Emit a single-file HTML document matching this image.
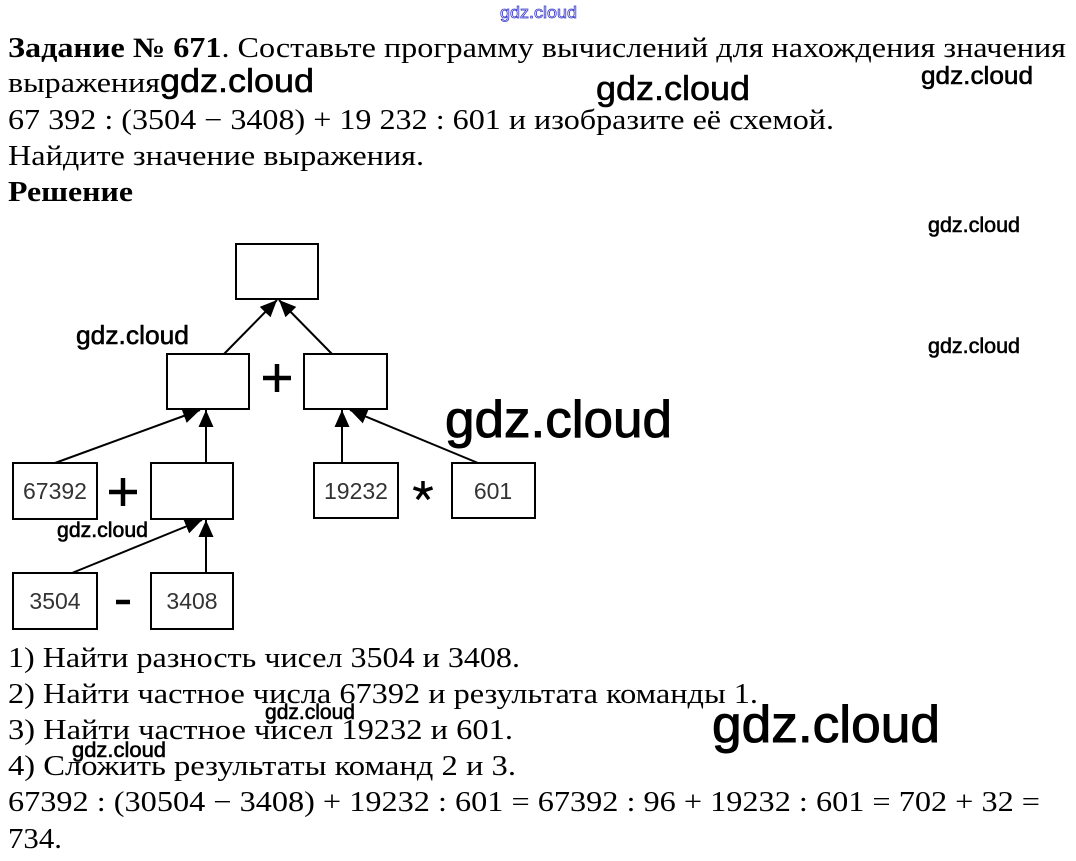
<!DOCTYPE html>
<html><head><meta charset="utf-8"><style>
html,body{margin:0;padding:0;background:#fff;}
svg{display:block;}
.t{font-family:"Liberation Serif","Noto Serif CJK SC",serif;font-size:28px;fill:#000;}
.w{font-family:"Liberation Sans","DejaVu Sans",sans-serif;fill:#000;stroke:#000;stroke-width:0.6;}
.n{font-family:"Liberation Sans",Arial,sans-serif;font-size:23px;fill:#333;text-anchor:middle;}
</style></head><body>
<svg width="1076" height="861" viewBox="0 0 1076 861" xmlns="http://www.w3.org/2000/svg">
<defs>
<marker id="ah" markerUnits="userSpaceOnUse" markerWidth="18" markerHeight="16" refX="17" refY="7.5" orient="auto">
<path d="M0,0 L17,7.5 L0,15 z" fill="#000"/>
</marker>
</defs>

<!-- top blue watermark -->
<text x="500" y="18" font-family="Liberation Sans, sans-serif" font-size="17" fill="#fff" stroke="#3a3acc" stroke-width="0.8" textLength="77" lengthAdjust="spacingAndGlyphs">gdz.cloud</text>

<!-- heading text -->
<text x="8" y="57" class="t" textLength="1058" lengthAdjust="spacingAndGlyphs"><tspan font-weight="bold">Задание № 671</tspan>. Составьте программу вычислений для нахождения значения</text>
<text x="8" y="92" class="t" textLength="152" lengthAdjust="spacingAndGlyphs">выражения</text>
<text x="8" y="129" class="t" textLength="826" lengthAdjust="spacingAndGlyphs">67 392 : (3504 − 3408) + 19 232 : 601 и изобразите её схемой.</text>
<text x="8" y="165" class="t" textLength="416" lengthAdjust="spacingAndGlyphs">Найдите значение выражения.</text>
<text x="8" y="201" class="t" font-weight="bold" textLength="125" lengthAdjust="spacingAndGlyphs">Решение</text>

<!-- watermarks -->
<text x="160" y="92" class="w" font-size="33" textLength="154" lengthAdjust="spacingAndGlyphs">gdz.cloud</text>
<text x="596" y="100" class="w" font-size="34" textLength="154" lengthAdjust="spacingAndGlyphs">gdz.cloud</text>
<text x="921" y="84" class="w" font-size="25" textLength="112" lengthAdjust="spacingAndGlyphs">gdz.cloud</text>
<text x="928" y="232" class="w" font-size="21" textLength="92" lengthAdjust="spacingAndGlyphs">gdz.cloud</text>
<text x="928" y="353" class="w" font-size="21" textLength="92" lengthAdjust="spacingAndGlyphs">gdz.cloud</text>
<text x="76" y="344" class="w" font-size="26" textLength="113" lengthAdjust="spacingAndGlyphs">gdz.cloud</text>
<text x="445" y="437" class="w" font-size="52" textLength="227" lengthAdjust="spacingAndGlyphs" style="stroke-width:1">gdz.cloud</text>

<!-- diagram boxes -->
<g fill="none" stroke="#000" stroke-width="2">
<rect x="236" y="244" width="82" height="55"/>
<rect x="167" y="354" width="82" height="55"/>
<rect x="304" y="354" width="83" height="55"/>
<rect x="13" y="463" width="84" height="56"/>
<rect x="151" y="463" width="82" height="56"/>
<rect x="314" y="463" width="84" height="55"/>
<rect x="452" y="463" width="83" height="55"/>
<rect x="13" y="573" width="84" height="56"/>
<rect x="151" y="573" width="82" height="56"/>
</g>

<!-- arrows -->
<g stroke="#000" stroke-width="2" marker-end="url(#ah)">
<line x1="224" y1="354" x2="277" y2="300"/>
<line x1="332" y1="354" x2="279" y2="300"/>
<line x1="55" y1="463" x2="200" y2="410"/>
<line x1="206" y1="463" x2="206" y2="410"/>
<line x1="342" y1="463" x2="342" y2="410"/>
<line x1="478" y1="463" x2="350" y2="410"/>
<line x1="72" y1="573" x2="202" y2="520"/>
<line x1="206" y1="573" x2="206" y2="520"/>
</g>

<!-- operators -->
<g stroke="#000" stroke-width="4.5">
<line x1="263" y1="378" x2="291" y2="378"/>
<line x1="277" y1="364" x2="277" y2="392"/>
<line x1="109" y1="492" x2="137" y2="492"/>
<line x1="123" y1="478" x2="123" y2="506"/>
<line x1="116" y1="602" x2="130" y2="602"/>
</g>
<g stroke="#000" stroke-width="3.5" stroke-linecap="butt">
<line x1="423" y1="491" x2="423" y2="481"/>
<line x1="423" y1="491" x2="432.5" y2="487.9"/>
<line x1="423" y1="491" x2="413.5" y2="487.9"/>
<line x1="423" y1="491" x2="428.9" y2="499.1"/>
<line x1="423" y1="491" x2="417.1" y2="499.1"/>
</g>

<!-- box labels -->
<text x="55" y="499" class="n">67392</text>
<text x="356" y="499" class="n">19232</text>
<text x="493" y="499" class="n">601</text>
<text x="55" y="609" class="n">3504</text>
<text x="192" y="609" class="n">3408</text>

<text x="57" y="537" class="w" font-size="21" textLength="91" lengthAdjust="spacingAndGlyphs">gdz.cloud</text>

<!-- solution text -->
<text x="8" y="667" class="t" textLength="512" lengthAdjust="spacingAndGlyphs">1) Найти разность чисел 3504 и 3408.</text>
<text x="8" y="703" class="t" textLength="750" lengthAdjust="spacingAndGlyphs">2) Найти частное числа 67392 и результата команды 1.</text>
<text x="8" y="739" class="t" textLength="505" lengthAdjust="spacingAndGlyphs">3) Найти частное чисел 19232 и 601.</text>
<text x="8" y="775" class="t" textLength="508" lengthAdjust="spacingAndGlyphs">4) Сложить результаты команд 2 и 3.</text>
<text x="8" y="811" class="t" textLength="1032" lengthAdjust="spacingAndGlyphs">67392 : (30504 − 3408) + 19232 : 601 = 67392 : 96 + 19232 : 601 = 702 + 32 =</text>
<text x="8" y="848" class="t" textLength="54" lengthAdjust="spacingAndGlyphs">734.</text>

<text x="265" y="719" class="w" font-size="21" textLength="90" lengthAdjust="spacingAndGlyphs">gdz.cloud</text>
<text x="72" y="757" class="w" font-size="21" textLength="94" lengthAdjust="spacingAndGlyphs">gdz.cloud</text>
<text x="712" y="742" class="w" font-size="52" textLength="228" lengthAdjust="spacingAndGlyphs" style="stroke-width:1">gdz.cloud</text>
</svg>
</body></html>
